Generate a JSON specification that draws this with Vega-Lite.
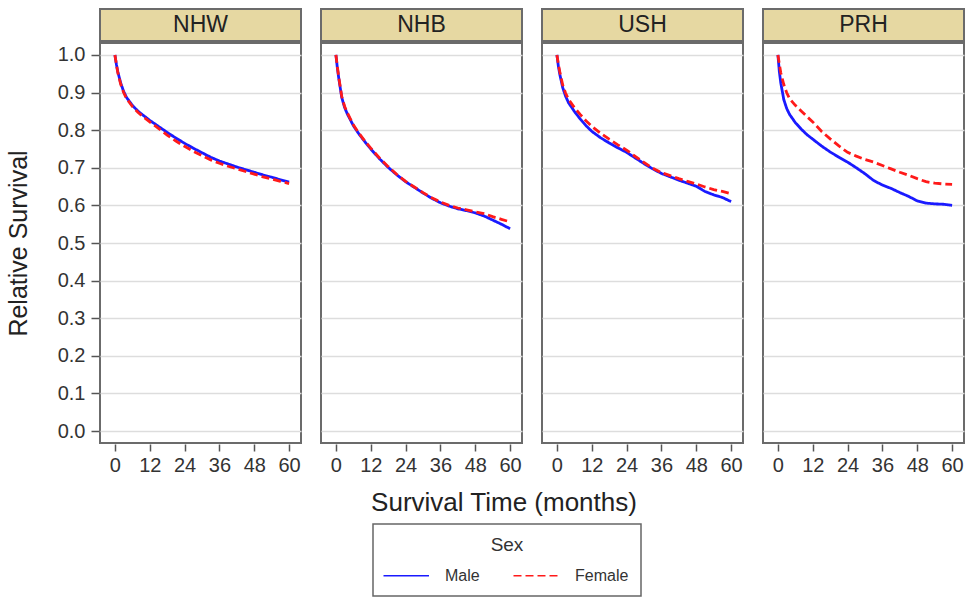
{
  "$schema": "https://vega.github.io/schema/vega-lite/v6.json",
  "padding": {"left": 6, "top": 8, "right": 2, "bottom": 0},
  "background": "white",
  "config": {
    "font": "Liberation Sans",
    "view": {"stroke": "#6b6b6b", "strokeWidth": 2},
    "axis": {"domain": false, "labelColor": "#333333", "tickColor": "#555555", "tickWidth": 1.5, "titleFontWeight": "normal", "titleColor": "#222222", "labelFont": "Liberation Sans", "titleFont": "Liberation Sans"},
    "legend": {
      "orient": "none", "legendX": 273, "legendY": 515, "direction": "horizontal", "titleAnchor": "middle", "titleOrient": "top",
      "strokeColor": "#666666", "strokeWidth": 1.5, "padding": 12, "titleFontSize": 19, "titleFontWeight": "normal", "titleColor": "#333333",
      "titlePadding": 2, "labelFontSize": 16, "labelColor": "#333333", "symbolType": "M-1.143,0H1.457", "symbolSize": 1225,
      "symbolStrokeWidth": 1.5, "labelOffset": 23, "columnPadding": 30
    }
  },
  "spacing": 0,
  "vconcat": [
    {
      "data": {"values": [{"g": "NHW"}, {"g": "NHB"}, {"g": "USH"}, {"g": "PRH"}]},
      "facet": {"column": {"field": "g", "type": "nominal", "sort": ["NHW", "NHB", "USH", "PRH"], "header": null}},
      "spacing": 18,
      "spec": {
        "width": 201,
        "height": 32,
        "view": {"fill": "#E6D8A2", "stroke": "#6b6b6b", "strokeWidth": 2},
        "mark": {"type": "text", "fontSize": 23, "color": "#222222", "font": "Liberation Sans"},
        "encoding": {"text": {"field": "g", "type": "nominal"}}
      }
    },
    {
      "data": {"values": [
        {"g":"NHW","s":"Male","t":0,"v":1},{"g":"NHW","s":"Male","t":0.5,"v":0.975},{"g":"NHW","s":"Male","t":1,"v":0.955},{"g":"NHW","s":"Male","t":2,"v":0.925},{"g":"NHW","s":"Male","t":3,"v":0.903},{"g":"NHW","s":"Male","t":4,"v":0.887},{"g":"NHW","s":"Male","t":6,"v":0.866},{"g":"NHW","s":"Male","t":8,"v":0.85},{"g":"NHW","s":"Male","t":10,"v":0.838},{"g":"NHW","s":"Male","t":12,"v":0.826},{"g":"NHW","s":"Male","t":15,"v":0.81},{"g":"NHW","s":"Male","t":18,"v":0.794},{"g":"NHW","s":"Male","t":21,"v":0.779},{"g":"NHW","s":"Male","t":24,"v":0.765},{"g":"NHW","s":"Male","t":27,"v":0.752},{"g":"NHW","s":"Male","t":30,"v":0.74},{"g":"NHW","s":"Male","t":33,"v":0.728},{"g":"NHW","s":"Male","t":36,"v":0.718},{"g":"NHW","s":"Male","t":39,"v":0.71},{"g":"NHW","s":"Male","t":42,"v":0.702},{"g":"NHW","s":"Male","t":45,"v":0.695},{"g":"NHW","s":"Male","t":48,"v":0.688},{"g":"NHW","s":"Male","t":51,"v":0.681},{"g":"NHW","s":"Male","t":54,"v":0.675},{"g":"NHW","s":"Male","t":57,"v":0.668},{"g":"NHW","s":"Male","t":60,"v":0.662},
        {"g":"NHB","s":"Male","t":0,"v":1},{"g":"NHB","s":"Male","t":0.5,"v":0.965},{"g":"NHB","s":"Male","t":1,"v":0.937},{"g":"NHB","s":"Male","t":2,"v":0.887},{"g":"NHB","s":"Male","t":3,"v":0.86},{"g":"NHB","s":"Male","t":4,"v":0.842},{"g":"NHB","s":"Male","t":6,"v":0.812},{"g":"NHB","s":"Male","t":8,"v":0.789},{"g":"NHB","s":"Male","t":10,"v":0.769},{"g":"NHB","s":"Male","t":12,"v":0.75},{"g":"NHB","s":"Male","t":15,"v":0.724},{"g":"NHB","s":"Male","t":18,"v":0.701},{"g":"NHB","s":"Male","t":21,"v":0.681},{"g":"NHB","s":"Male","t":24,"v":0.663},{"g":"NHB","s":"Male","t":27,"v":0.648},{"g":"NHB","s":"Male","t":30,"v":0.633},{"g":"NHB","s":"Male","t":33,"v":0.619},{"g":"NHB","s":"Male","t":36,"v":0.607},{"g":"NHB","s":"Male","t":39,"v":0.598},{"g":"NHB","s":"Male","t":42,"v":0.591},{"g":"NHB","s":"Male","t":45,"v":0.586},{"g":"NHB","s":"Male","t":48,"v":0.58},{"g":"NHB","s":"Male","t":51,"v":0.572},{"g":"NHB","s":"Male","t":54,"v":0.561},{"g":"NHB","s":"Male","t":57,"v":0.55},{"g":"NHB","s":"Male","t":60,"v":0.538},
        {"g":"USH","s":"Male","t":0,"v":1},{"g":"USH","s":"Male","t":0.5,"v":0.97},{"g":"USH","s":"Male","t":1,"v":0.948},{"g":"USH","s":"Male","t":2,"v":0.913},{"g":"USH","s":"Male","t":3,"v":0.89},{"g":"USH","s":"Male","t":4,"v":0.873},{"g":"USH","s":"Male","t":6,"v":0.85},{"g":"USH","s":"Male","t":8,"v":0.83},{"g":"USH","s":"Male","t":10,"v":0.812},{"g":"USH","s":"Male","t":12,"v":0.797},{"g":"USH","s":"Male","t":15,"v":0.78},{"g":"USH","s":"Male","t":18,"v":0.766},{"g":"USH","s":"Male","t":21,"v":0.753},{"g":"USH","s":"Male","t":24,"v":0.741},{"g":"USH","s":"Male","t":27,"v":0.726},{"g":"USH","s":"Male","t":30,"v":0.711},{"g":"USH","s":"Male","t":33,"v":0.697},{"g":"USH","s":"Male","t":36,"v":0.685},{"g":"USH","s":"Male","t":39,"v":0.676},{"g":"USH","s":"Male","t":42,"v":0.667},{"g":"USH","s":"Male","t":45,"v":0.659},{"g":"USH","s":"Male","t":48,"v":0.651},{"g":"USH","s":"Male","t":51,"v":0.637},{"g":"USH","s":"Male","t":54,"v":0.628},{"g":"USH","s":"Male","t":57,"v":0.621},{"g":"USH","s":"Male","t":60,"v":0.61},
        {"g":"PRH","s":"Male","t":0,"v":1},{"g":"PRH","s":"Male","t":0.5,"v":0.955},{"g":"PRH","s":"Male","t":1,"v":0.925},{"g":"PRH","s":"Male","t":2,"v":0.882},{"g":"PRH","s":"Male","t":3,"v":0.858},{"g":"PRH","s":"Male","t":4,"v":0.842},{"g":"PRH","s":"Male","t":6,"v":0.82},{"g":"PRH","s":"Male","t":8,"v":0.803},{"g":"PRH","s":"Male","t":10,"v":0.788},{"g":"PRH","s":"Male","t":12,"v":0.776},{"g":"PRH","s":"Male","t":15,"v":0.758},{"g":"PRH","s":"Male","t":18,"v":0.742},{"g":"PRH","s":"Male","t":21,"v":0.728},{"g":"PRH","s":"Male","t":24,"v":0.715},{"g":"PRH","s":"Male","t":27,"v":0.7},{"g":"PRH","s":"Male","t":30,"v":0.684},{"g":"PRH","s":"Male","t":33,"v":0.666},{"g":"PRH","s":"Male","t":36,"v":0.654},{"g":"PRH","s":"Male","t":39,"v":0.645},{"g":"PRH","s":"Male","t":42,"v":0.634},{"g":"PRH","s":"Male","t":45,"v":0.624},{"g":"PRH","s":"Male","t":48,"v":0.612},{"g":"PRH","s":"Male","t":51,"v":0.606},{"g":"PRH","s":"Male","t":54,"v":0.604},{"g":"PRH","s":"Male","t":57,"v":0.603},{"g":"PRH","s":"Male","t":60,"v":0.6},
        {"g":"NHW","s":"Female","t":0,"v":1},{"g":"NHW","s":"Female","t":0.5,"v":0.975},{"g":"NHW","s":"Female","t":1,"v":0.953},{"g":"NHW","s":"Female","t":2,"v":0.922},{"g":"NHW","s":"Female","t":3,"v":0.9},{"g":"NHW","s":"Female","t":4,"v":0.884},{"g":"NHW","s":"Female","t":6,"v":0.863},{"g":"NHW","s":"Female","t":8,"v":0.847},{"g":"NHW","s":"Female","t":10,"v":0.834},{"g":"NHW","s":"Female","t":12,"v":0.822},{"g":"NHW","s":"Female","t":15,"v":0.805},{"g":"NHW","s":"Female","t":18,"v":0.787},{"g":"NHW","s":"Female","t":21,"v":0.771},{"g":"NHW","s":"Female","t":24,"v":0.757},{"g":"NHW","s":"Female","t":27,"v":0.744},{"g":"NHW","s":"Female","t":30,"v":0.732},{"g":"NHW","s":"Female","t":33,"v":0.721},{"g":"NHW","s":"Female","t":36,"v":0.712},{"g":"NHW","s":"Female","t":39,"v":0.704},{"g":"NHW","s":"Female","t":42,"v":0.697},{"g":"NHW","s":"Female","t":45,"v":0.69},{"g":"NHW","s":"Female","t":48,"v":0.683},{"g":"NHW","s":"Female","t":51,"v":0.676},{"g":"NHW","s":"Female","t":54,"v":0.67},{"g":"NHW","s":"Female","t":57,"v":0.664},{"g":"NHW","s":"Female","t":60,"v":0.658},
        {"g":"NHB","s":"Female","t":0,"v":1},{"g":"NHB","s":"Female","t":0.5,"v":0.968},{"g":"NHB","s":"Female","t":1,"v":0.94},{"g":"NHB","s":"Female","t":2,"v":0.89},{"g":"NHB","s":"Female","t":3,"v":0.863},{"g":"NHB","s":"Female","t":4,"v":0.845},{"g":"NHB","s":"Female","t":6,"v":0.814},{"g":"NHB","s":"Female","t":8,"v":0.791},{"g":"NHB","s":"Female","t":10,"v":0.771},{"g":"NHB","s":"Female","t":12,"v":0.752},{"g":"NHB","s":"Female","t":15,"v":0.726},{"g":"NHB","s":"Female","t":18,"v":0.703},{"g":"NHB","s":"Female","t":21,"v":0.682},{"g":"NHB","s":"Female","t":24,"v":0.664},{"g":"NHB","s":"Female","t":27,"v":0.649},{"g":"NHB","s":"Female","t":30,"v":0.634},{"g":"NHB","s":"Female","t":33,"v":0.62},{"g":"NHB","s":"Female","t":36,"v":0.609},{"g":"NHB","s":"Female","t":39,"v":0.6},{"g":"NHB","s":"Female","t":42,"v":0.593},{"g":"NHB","s":"Female","t":45,"v":0.588},{"g":"NHB","s":"Female","t":48,"v":0.583},{"g":"NHB","s":"Female","t":51,"v":0.578},{"g":"NHB","s":"Female","t":54,"v":0.57},{"g":"NHB","s":"Female","t":57,"v":0.563},{"g":"NHB","s":"Female","t":60,"v":0.556},
        {"g":"USH","s":"Female","t":0,"v":1},{"g":"USH","s":"Female","t":0.5,"v":0.975},{"g":"USH","s":"Female","t":1,"v":0.955},{"g":"USH","s":"Female","t":2,"v":0.92},{"g":"USH","s":"Female","t":3,"v":0.898},{"g":"USH","s":"Female","t":4,"v":0.882},{"g":"USH","s":"Female","t":6,"v":0.86},{"g":"USH","s":"Female","t":8,"v":0.842},{"g":"USH","s":"Female","t":10,"v":0.825},{"g":"USH","s":"Female","t":12,"v":0.81},{"g":"USH","s":"Female","t":15,"v":0.792},{"g":"USH","s":"Female","t":18,"v":0.776},{"g":"USH","s":"Female","t":21,"v":0.761},{"g":"USH","s":"Female","t":24,"v":0.747},{"g":"USH","s":"Female","t":27,"v":0.73},{"g":"USH","s":"Female","t":30,"v":0.714},{"g":"USH","s":"Female","t":33,"v":0.699},{"g":"USH","s":"Female","t":36,"v":0.687},{"g":"USH","s":"Female","t":39,"v":0.679},{"g":"USH","s":"Female","t":42,"v":0.671},{"g":"USH","s":"Female","t":45,"v":0.664},{"g":"USH","s":"Female","t":48,"v":0.657},{"g":"USH","s":"Female","t":51,"v":0.649},{"g":"USH","s":"Female","t":54,"v":0.642},{"g":"USH","s":"Female","t":57,"v":0.637},{"g":"USH","s":"Female","t":60,"v":0.631},
        {"g":"PRH","s":"Female","t":0,"v":1},{"g":"PRH","s":"Female","t":0.5,"v":0.975},{"g":"PRH","s":"Female","t":1,"v":0.952},{"g":"PRH","s":"Female","t":2,"v":0.922},{"g":"PRH","s":"Female","t":3,"v":0.9},{"g":"PRH","s":"Female","t":4,"v":0.884},{"g":"PRH","s":"Female","t":6,"v":0.866},{"g":"PRH","s":"Female","t":8,"v":0.851},{"g":"PRH","s":"Female","t":10,"v":0.836},{"g":"PRH","s":"Female","t":12,"v":0.822},{"g":"PRH","s":"Female","t":15,"v":0.797},{"g":"PRH","s":"Female","t":18,"v":0.777},{"g":"PRH","s":"Female","t":21,"v":0.758},{"g":"PRH","s":"Female","t":24,"v":0.741},{"g":"PRH","s":"Female","t":27,"v":0.731},{"g":"PRH","s":"Female","t":30,"v":0.722},{"g":"PRH","s":"Female","t":33,"v":0.715},{"g":"PRH","s":"Female","t":36,"v":0.706},{"g":"PRH","s":"Female","t":39,"v":0.697},{"g":"PRH","s":"Female","t":42,"v":0.688},{"g":"PRH","s":"Female","t":45,"v":0.68},{"g":"PRH","s":"Female","t":48,"v":0.671},{"g":"PRH","s":"Female","t":51,"v":0.663},{"g":"PRH","s":"Female","t":54,"v":0.659},{"g":"PRH","s":"Female","t":57,"v":0.657},{"g":"PRH","s":"Female","t":60,"v":0.656}
      ]},
      "facet": {
        "column": {"field": "g", "type": "nominal", "sort": ["NHW", "NHB", "USH", "PRH"], "header": null}
      },
      "spacing": 18,
      "spec": {
        "width": 201,
        "height": 400,
        "mark": {"type": "line", "strokeWidth": 2.8, "interpolate": "linear"},
        "encoding": {
          "x": {"field": "t", "type": "quantitative", "scale": {"domain": [-5.14, 64.1], "nice": false, "zero": false},
                "axis": {"values": [0, 12, 24, 36, 48, 60], "title": null, "grid": false, "tickSize": 7, "labelFontSize": 20, "labelPadding": 4, "labelFlush": false}},
          "y": {"field": "v", "type": "quantitative", "scale": {"domain": [-0.0317, 1.0317], "nice": false, "zero": false},
                "axis": {"values": [0, 0.1, 0.2, 0.3, 0.4, 0.5, 0.6, 0.7, 0.8, 0.9, 1.0], "format": ".1f", "title": "Relative Survival", "titleFontSize": 25, "titlePadding": 26, "grid": true, "gridColor": "#dddddd", "gridWidth": 1.5, "tickSize": 8, "labelFontSize": 20, "labelPadding": 6}},
          "color": {"field": "s", "type": "nominal", "title": "Sex", "scale": {"domain": ["Male", "Female"], "range": ["#1a1aff", "#ff1a1a"]}},
          "strokeDash": {"field": "s", "type": "nominal", "title": "Sex", "scale": {"domain": ["Male", "Female"], "range": [[1, 0], [8, 4]]}}
        }
      }
    },
    {
      "data": {"values": [{"label": "Survival Time (months)"}]},
      "width": 808,
      "height": 56,
      "view": {"stroke": null},
      "mark": {"type": "text", "fontSize": 26, "color": "#222222", "font": "Liberation Sans"},
      "encoding": {"text": {"field": "label", "type": "nominal"}}
    }
  ]
}
